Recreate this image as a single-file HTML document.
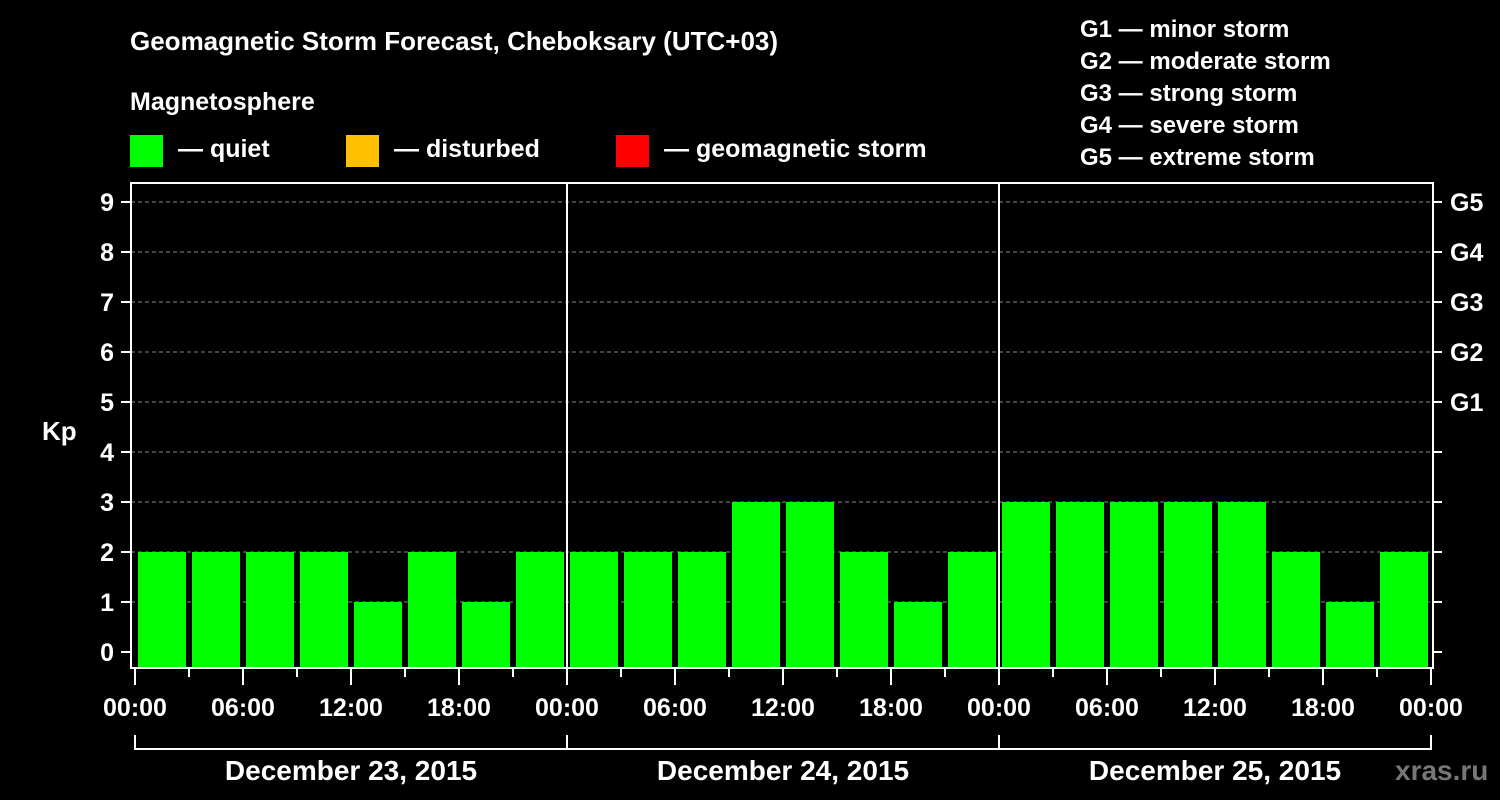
<!DOCTYPE html>
<html><head><meta charset="utf-8"><style>
html,body{margin:0;padding:0;background:#000;}
svg{display:block;font-family:"Liberation Sans",Arial,sans-serif;font-weight:bold;}
</style></head><body>
<svg id="chart" width="1500" height="800" viewBox="0 0 1500 800">
<rect width="1500" height="800" fill="#000"/>
<text x="130" y="50" fill="#fff" font-size="26">Geomagnetic Storm Forecast, Cheboksary (UTC+03)</text>
<text x="130" y="110" fill="#fff" font-size="25">Magnetosphere</text>
<g><rect x="130" y="135" width="33" height="32" fill="#00ff00"/><text x="178" y="157" fill="#fff" font-size="25">— quiet</text></g>
<g><rect x="346" y="135" width="33" height="32" fill="#ffc000"/><text x="394" y="157" fill="#fff" font-size="25">— disturbed</text></g>
<g><rect x="616" y="135" width="33" height="32" fill="#ff0000"/><text x="664" y="157" fill="#fff" font-size="25">— geomagnetic storm</text></g>
<g font-size="24" fill="#fff">
<text x="1080" y="37">G1 — minor storm</text>
<text x="1080" y="69">G2 — moderate storm</text>
<text x="1080" y="101">G3 — strong storm</text>
<text x="1080" y="133">G4 — severe storm</text>
<text x="1080" y="165">G5 — extreme storm</text>
</g>
<text x="42" y="440" fill="#fff" font-size="26">Kp</text>
<text x="1395" y="780" fill="#777" font-size="28">xras.ru</text>
<g id="plot"></g>
</svg>
<script>
const days = ["December 23, 2015","December 24, 2015","December 25, 2015"];
const kpValues = [2,2,2,2,1,2,1,2, 2,2,2,3,3,2,1,2, 3,3,3,3,3,2,1,2];
const yTicks = [0,1,2,3,4,5,6,7,8,9];
const gLabels = ["G1","G2","G3","G4","G5"];
const gLevels = [5,6,7,8,9];
const hourLabels = ["00:00","06:00","12:00","18:00"];

const NS="http://www.w3.org/2000/svg";
const plot=document.getElementById('plot');
const X0=135, DAYW=432, Y0=652, UNIT=50, LEFT=131, RIGHT=1433, TOP=183, BOT=668;
const xH = h => X0 + h*DAYW/24;
const yV = v => Y0 - v*UNIT;
function mk(tag, attrs){const e=document.createElementNS(NS,tag);for(const k in attrs)e.setAttribute(k,attrs[k]);plot.appendChild(e);return e;}

// gridlines
yTicks.forEach(v=>{ if(v>0){const l=mk('line',{x1:LEFT,x2:RIGHT,y1:yV(v),y2:yV(v),stroke:'#888','stroke-dasharray':'4,3','stroke-width':1});

}});

// bars
const slotW=DAYW/8;
kpValues.forEach((v,i)=>{
  const x=xH(i*3)+3;
  const r=mk('rect',{x:x,y:yV(v),width:slotW-6,height:BOT-yV(v),fill:v>=5?'#ff0000':(v>=4?'#ffc000':'#00ff00')});
  
  
});

// day separators
for(let d=1;d<days.length;d++){const l=mk('line',{x1:xH(24*d),x2:xH(24*d),y1:TOP,y2:BOT,stroke:'#fff','stroke-width':2});

}

// frame
const fr=mk('rect',{x:LEFT,y:TOP,width:RIGHT-LEFT,height:BOT-TOP,fill:'none',stroke:'#fff','stroke-width':2});



// y ticks and labels
yTicks.forEach(v=>{
  mk('line',{x1:121,x2:LEFT,y1:yV(v),y2:yV(v),stroke:'#fff','stroke-width':2});
  mk('line',{x1:RIGHT,x2:1442,y1:yV(v),y2:yV(v),stroke:'#fff','stroke-width':2});
  const t=mk('text',{x:114,y:yV(v)+9,fill:'#fff','font-size':25,'text-anchor':'end'});
  t.textContent=v;
  
  
});
gLabels.forEach((g,i)=>{
  const t=mk('text',{x:1450,y:yV(gLevels[i])+9,fill:'#fff','font-size':25});
  t.textContent=g;
  
  
});

// x ticks
for(let h=0;h<=24*days.length;h+=3){
  const long=h%6===0;
  mk('line',{x1:xH(h),x2:xH(h),y1:BOT,y2:long?685:677,stroke:'#fff','stroke-width':2});
}
for(let d=0;d<=days.length;d++){
  hourLabels.forEach((lab,j)=>{
    if(d===days.length && j>0) return;
    const t=mk('text',{x:xH(d*24+j*6),y:716,fill:'#fff','font-size':25,'text-anchor':'middle'});
    t.textContent=lab;
    
    
  });
}
// day brackets
days.forEach((d,i)=>{
  const a=xH(i*24), b=xH((i+1)*24);
  mk('path',{d:`M${a},735 V749 H${b} V735`,stroke:'#fff','stroke-width':2,fill:'none'});
  const t=mk('text',{x:(a+b)/2,y:780,fill:'#fff','font-size':28,'text-anchor':'middle'});
  t.textContent=d;
  
  
});
</script>
</body></html>
